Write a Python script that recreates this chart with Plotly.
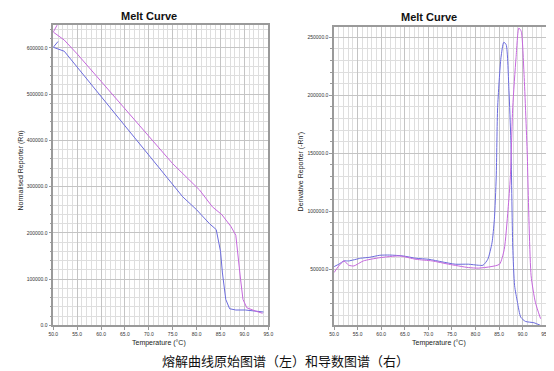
import plotly.graph_objects as go

# ---------------- data ----------------
# Left: normalised reporter (Rn) vs temperature
raw_blue_t = [51.0, 50.0, 52.3, 55.0, 60.0, 65.0, 70.0, 75.0, 77.1, 80.0, 82.7, 84.1, 84.7,
              85.0, 85.4, 86.1, 86.9, 88.2, 90.2, 93.6, 94.0]
raw_blue_v = [614000, 601500, 593000, 558800, 495500, 431700, 368400, 304600, 278000, 250100,
              220000, 207200, 177100, 160000, 113400, 56200, 36100, 33300, 33300, 29600, 29000]
raw_pink_t = [50.8, 50.0, 52.3, 53.9, 55.0, 60.0, 65.0, 70.0, 75.0, 80.6, 83.3, 85.3, 87.2,
              88.2, 88.5, 88.8, 89.2, 89.7, 90.5, 92.3, 93.8]
raw_pink_v = [649400, 634400, 617200, 600000, 587200, 527900, 468500, 409200, 349700, 293000,
              256500, 239300, 213600, 195000, 170000, 142800, 99200, 56200, 38200, 31100, 26200]

# Right: derivative reporter (-Rn') vs temperature
der_blue_t = [50.0, 51.0, 52.1, 53.1, 55.6, 57.6, 59.7, 61.8, 64.6, 67.4, 70.1, 72.9, 75.7,
              78.5, 80.6, 81.6, 82.6, 83.5, 84.0, 84.4, 84.7, 85.4, 86.0, 86.5, 87.1, 87.5,
              87.9, 88.3, 88.9, 89.6, 90.6, 92.4, 93.8]
der_blue_v = [52200, 54300, 57100, 57100, 59400, 60300, 62000, 62200, 61400, 59400, 58500,
              56300, 54300, 54300, 53400, 53400, 58500, 72700, 92700, 129700, 189600, 232300,
              245700, 243700, 203800, 161100, 70000, 35700, 21500, 8600, 4950, 3800, 1500]
der_pink_t = [50.0, 51.0, 52.1, 53.1, 54.2, 56.2, 59.7, 63.9, 67.4, 70.8, 74.3, 78.5, 80.6,
              83.3, 85.1, 86.1, 86.9, 87.4, 87.9, 88.6, 89.2, 89.7, 90.3, 91.0, 91.1, 91.8,
              92.7, 93.8]
der_pink_v = [47100, 52800, 57100, 53400, 52800, 57100, 59900, 61400, 58500, 57100, 54300,
              51400, 50900, 52200, 54300, 67100, 101300, 129700, 189600, 232300, 258000,
              255100, 218000, 146800, 129700, 44300, 21500, 7300]

title_text = "Melt Curve"
x_title = "Temperature (°C)"
left_y_title = "Normalised Reporter (Rn)"
right_y_title = "Derivative Reporter (-Rn')"
caption = "熔解曲线原始图谱（左）和导数图谱（右）"

BLUE = "#6b6bdc"
PINK = "#c567dc"
FRAME = "#9a9a9a"
GRID_MAJ = "#c4c4c4"
GRID_MIN = "#dedede"
TICKFONT = dict(family="Liberation Sans, Arial", size=5, color="#333")

fig = go.Figure()
fig.add_trace(go.Scatter(x=raw_blue_t, y=raw_blue_v, mode="lines",
                         line=dict(color=BLUE, width=1), xaxis="x", yaxis="y"))
fig.add_trace(go.Scatter(x=raw_pink_t, y=raw_pink_v, mode="lines",
                         line=dict(color=PINK, width=1), xaxis="x", yaxis="y"))
fig.add_trace(go.Scatter(x=der_blue_t, y=der_blue_v, mode="lines",
                         line=dict(color=BLUE, width=1, shape="spline", smoothing=0.6),
                         xaxis="x2", yaxis="y2"))
fig.add_trace(go.Scatter(x=der_pink_t, y=der_pink_v, mode="lines",
                         line=dict(color=PINK, width=1, shape="spline", smoothing=0.6),
                         xaxis="x2", yaxis="y2"))

W, H = 554, 371


def xd(a, b):
    return [a / W, b / W]


def yd(top, bottom):
    return [(H - bottom) / H, (H - top) / H]


common_axis = dict(showline=True, linecolor=FRAME, linewidth=1.5, mirror=True,
                   showgrid=True, gridcolor=GRID_MAJ, gridwidth=1, zeroline=False,
                   ticks="outside", ticklen=3, tickcolor=FRAME, tickfont=TICKFONT,
                   tickformat=".1f")

fig.update_layout(
    width=W, height=H, margin=dict(l=0, r=0, t=0, b=0),
    paper_bgcolor="white", plot_bgcolor="white", showlegend=False,
    font=dict(color="#222"),
    xaxis=dict(domain=xd(41, 260), range=[50, 95], dtick=5, tick0=50, anchor="y",
               minor=dict(dtick=1, showgrid=True, gridcolor=GRID_MIN, ticks=""),
               **common_axis),
    yaxis=dict(domain=yd(17, 320), range=[0, 650000], dtick=100000, tick0=0, anchor="x",
               minor=dict(dtick=20000, showgrid=True, gridcolor=GRID_MIN, ticks="outside",
                          ticklen=2, tickcolor=FRAME),
               **common_axis),
    xaxis2=dict(domain=xd(327, 543), range=[50, 95], dtick=5, tick0=50, anchor="y2",
                minor=dict(dtick=1, showgrid=True, gridcolor=GRID_MIN, ticks=""),
                **common_axis),
    yaxis2=dict(domain=yd(19, 320), range=[1500, 259000], dtick=50000, tick0=0, anchor="x2",
                minor=dict(dtick=10000, showgrid=True, gridcolor=GRID_MIN, ticks="outside",
                           ticklen=2, tickcolor=FRAME),
                **common_axis),
)


def note(text, px, py, size, angle=0, family="Liberation Sans", color="#222222",
         yanchor="middle"):
    return dict(text=text, x=px / W, y=1 - py / H, xref="paper", yref="paper",
                xanchor="center", yanchor=yanchor, showarrow=False, textangle=angle,
                font=dict(family=family, size=size, color=color))


ann = [
    note("<b>" + title_text + "</b>", 138, 8, 11, color="#111111"),
    note("<b>" + title_text + "</b>", 424, 9, 11, color="#111111"),
    note(x_title, 149, 338, 7),
    note(x_title, 434, 338, 7),
    note(left_y_title, 8, 164, 7, angle=-90),
    note(right_y_title, 293, 165, 7, angle=-90),
    note(caption, 277, 355, 13, family="Noto Sans CJK SC", color="#111111"),
]
fig.update_layout(annotations=ann)

fig.write_html("out.html")
